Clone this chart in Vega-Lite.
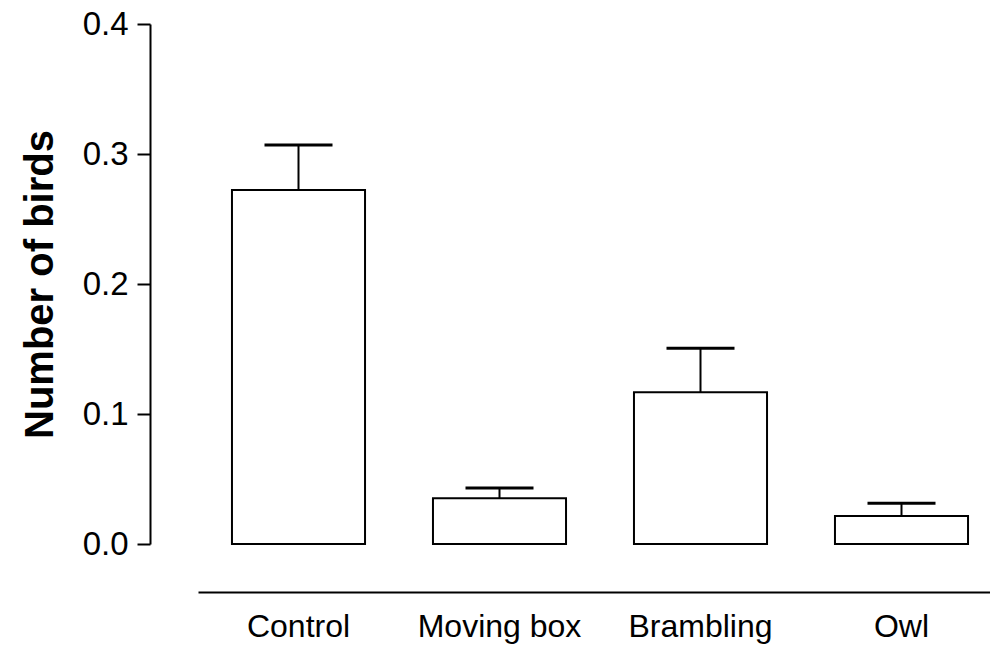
{
  "$schema": "https://vega.github.io/schema/vega-lite/v6.json",
  "autosize": "none",
  "width": 792,
  "height": 520,
  "padding": {"left": 198, "top": 24, "right": 0, "bottom": 107},
  "background": "white",
  "config": {
    "view": {"stroke": null},
    "font": "Liberation Sans",
    "axis": {"grid": false, "domainColor": "black", "tickColor": "black", "labelColor": "black", "titleColor": "black", "domainWidth": 2, "tickWidth": 2}
  },
  "data": {
    "values": [
      {"group": "Control", "mean": 0.2723, "upper": 0.3069},
      {"group": "Moving box", "mean": 0.0352, "upper": 0.0431},
      {"group": "Brambling", "mean": 0.1167, "upper": 0.1505},
      {"group": "Owl", "mean": 0.0215, "upper": 0.0313}
    ]
  },
  "encoding": {
    "x": {
      "field": "group",
      "type": "nominal",
      "sort": null,
      "scale": {"paddingInner": 0.338, "paddingOuter": 0.169, "range": [0, 804]},
      "axis": {
        "title": null,
        "labelAngle": 0,
        "ticks": false,
        "tickSize": 0,
        "labelPadding": 19,
        "labelFontSize": 32,
        "offset": 48,
        "domainWidth": 2
      }
    }
  },
  "layer": [
    {
      "mark": {"type": "rule", "stroke": "black", "strokeWidth": 2, "opacity": 1},
      "encoding": {
        "y": {"field": "mean", "type": "quantitative"},
        "y2": {"field": "upper"}
      }
    },
    {
      "mark": {"type": "tick", "color": "black", "size": 68, "thickness": 3, "opacity": 1},
      "encoding": {
        "y": {"field": "upper", "type": "quantitative"}
      }
    },
    {
      "mark": {"type": "bar", "fill": "white", "stroke": "black", "strokeWidth": 2, "opacity": 1},
      "encoding": {
        "y": {
          "field": "mean",
          "type": "quantitative",
          "scale": {"domain": [0, 0.4], "nice": false, "zero": true},
          "axis": {
            "title": "Number of birds",
            "titleFontSize": 40,
            "titleFontWeight": "bold",
            "titleX": -98,
            "titleBaseline": "alphabetic",
            "values": [0, 0.1, 0.2, 0.3, 0.4],
            "format": ".1f",
            "labelFontSize": 33,
            "tickSize": 13,
            "labelPadding": 9,
            "offset": 48
          }
        }
      }
    }
  ]
}
